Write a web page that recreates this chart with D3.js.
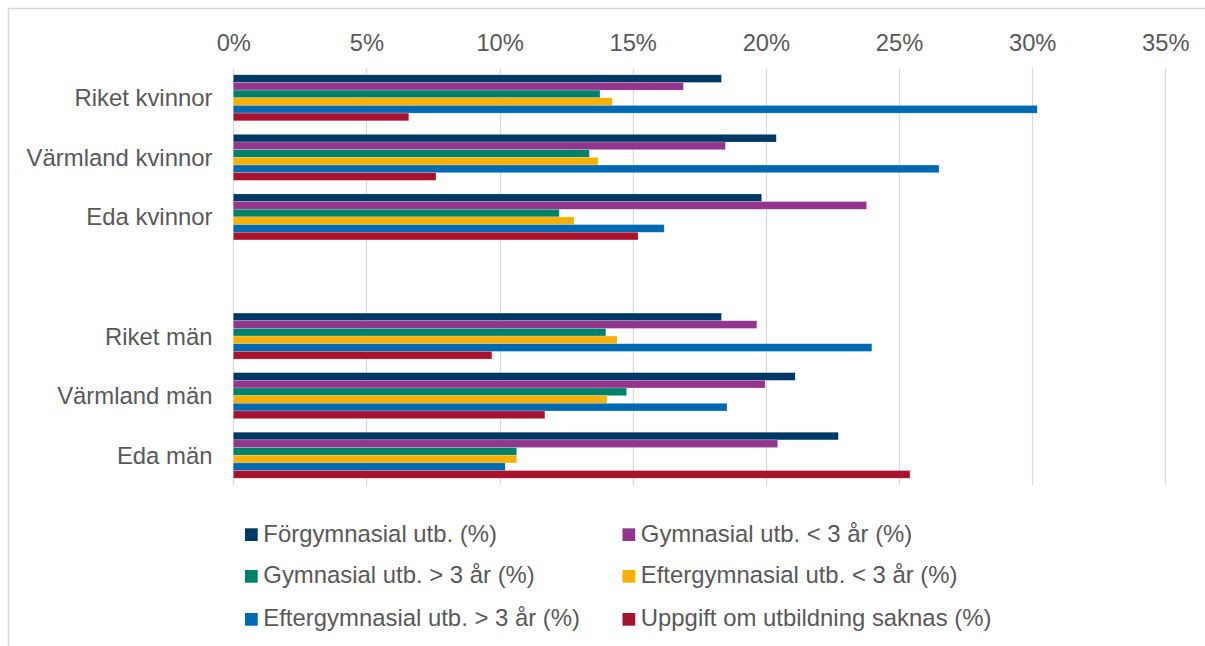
<!DOCTYPE html>
<html><head><meta charset="utf-8">
<script src="https://cdn.jsdelivr.net/npm/d3@7"></script>
<style>
html,body{margin:0;padding:0;background:#fff;}
svg{display:block;}
text{font-family:"Liberation Sans",Arial,sans-serif;fill:#595959;}
</style></head>
<body>
<script>
const categories = ["Riket kvinnor", "Värmland kvinnor", "Eda kvinnor", " ", "Riket män", "Värmland män", "Eda män"];
const seriesNames = ["Förgymnasial utb. (%)", "Gymnasial utb. < 3 år (%)", "Gymnasial utb. > 3 år (%)", "Eftergymnasial utb. < 3 år (%)", "Eftergymnasial utb. > 3 år (%)", "Uppgift om utbildning saknas (%)"];
const seriesColors = ["#003865", "#93358D", "#00826A", "#F9B000", "#0069B4", "#A9122F"];
const forgymnasial   = [18.33, 20.39, 19.84, null, 18.33, 21.10, 22.72];
const gymnKort       = [16.90, 18.48, 23.78, null, 19.66, 19.97, 20.44];
const gymnLang       = [13.77, 13.37, 12.24, null, 13.99, 14.77, 10.64];
const eftergymnKort  = [14.23, 13.70, 12.80, null, 14.41, 14.03, 10.64];
const eftergymnLang  = [30.19, 26.50, 16.18, null, 23.98, 18.54, 10.21];
const saknas         = [6.59, 7.61, 15.20, null, 9.71, 11.70, 25.41];
const tickValues = [0, 5, 10, 15, 20, 25, 30, 35];

const series = [forgymnasial, gymnKort, gymnLang, eftergymnKort, eftergymnLang, saknas];

const W = 1205, H = 646;
const svg = d3.select("body").append("svg").attr("width", W).attr("height", H);

// outer chart frame
svg.append("rect").attr("x", 8.5).attr("y", 8.5).attr("width", W + 10).attr("height", H + 10)
  .attr("fill", "none").attr("stroke", "#d9d9d9").attr("stroke-width", 1.5);

const plotTop = 68, plotBottom = 485;
const x = d3.scaleLinear().domain([0, 35]).range([233.3, 1165.3]);
const y = d3.scaleBand().domain(categories).range([plotTop, plotBottom]).paddingInner(0.228).paddingOuter(0.114);
const ySub = d3.scaleBand().domain(d3.range(series.length)).range([0, y.bandwidth()]);

// gridlines
svg.append("g").selectAll("line").data(tickValues).join("line")
  .attr("x1", d => Math.round(x(d)) + 0.5).attr("x2", d => Math.round(x(d)) + 0.5)
  .attr("y1", plotTop).attr("y2", plotBottom)
  .attr("stroke", "#d9d9d9").attr("stroke-width", 1.2);

// top axis labels
const axis = d3.axisTop(x).tickValues(tickValues).tickFormat(d => d + "%").tickSize(0).tickPadding(0);
const gAxis = svg.append("g").attr("transform", "translate(0,51)").call(axis);
gAxis.select(".domain").remove();
gAxis.selectAll("text").attr("font-size", "23.7px").attr("fill", "#595959")
  .attr("font-family", "Liberation Sans, Arial, sans-serif").attr("dy", 0);

// bars
series.forEach((vals, si) => {
  svg.append("g").selectAll("rect")
    .data(categories.map((c, i) => ({c, v: vals[i]})).filter(d => d.v != null))
    .join("rect")
    .attr("x", x(0))
    .attr("y", d => y(d.c) + ySub(si))
    .attr("width", d => x(d.v) - x(0))
    .attr("height", ySub.bandwidth())
    .attr("fill", seriesColors[si])
    .attr("stroke", "#ffffff").attr("stroke-opacity", 0.35).attr("stroke-width", 0.6);
});

// category labels
svg.append("g").selectAll("text").data(categories).join("text")
  .attr("x", 212.5)
  .attr("y", d => y(d) + y.bandwidth() / 2 + 8.5)
  .attr("text-anchor", "end")
  .attr("font-size", "23.9px")
  .text(d => d.trim());

// legend
const legendPos = [[245, 528.3], [622.5, 528.3], [245, 570], [622.5, 570], [245, 613], [622.5, 613]];
const lg = svg.append("g").selectAll("g").data(seriesNames).join("g")
  .attr("transform", (d, i) => `translate(${legendPos[i][0]},${legendPos[i][1]})`);
lg.append("rect").attr("width", 12.7).attr("height", 12.7).attr("fill", (d, i) => seriesColors[i]);
lg.append("text").attr("x", 18.3).attr("y", 13.4).attr("font-size", "23.9px").text(d => d);
</script>
</body></html>
